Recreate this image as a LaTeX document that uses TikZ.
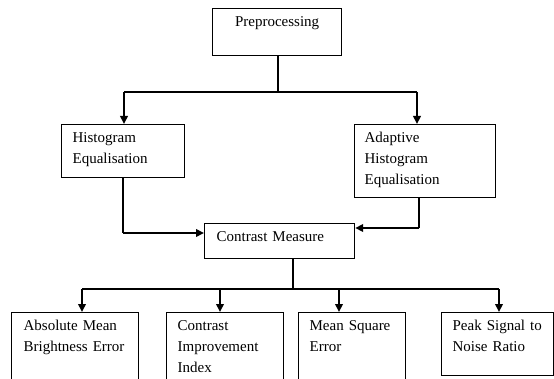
\documentclass[tikz,border=0pt]{standalone}
\usepackage{fontspec}
\setmainfont{Liberation Serif}
\usetikzlibrary{arrows.meta}

\begin{document}
\begin{tikzpicture}
    [
        x=1pt, y=-1pt,
        block/.style = {
                draw,
                rectangle,
                line width=1.2pt,
                anchor=north west,
                inner xsep=11pt,
                inner ysep=0pt,
                text height=18pt,
                align=left,
                font=\fontsize{15}{21}\selectfont
            },
        link/.style = {line width=1.3pt},
        arrow/.style = {line width=2.2pt, -{Triangle[length=8pt,width=7.5pt]}},
    ]

    \useasboundingbox (0,0) rectangle (554,379);
    \clip (0,0) rectangle (554,379);

    % boxes
    \node [block, align=center, text width=107pt, text depth=29pt] (pre) at (212,8) {Preprocessing};
    \node [block, text width=101pt, text depth=35pt] (histeq) at (61,124) {Histogram\\Equalisation};
    \node [block, inner xsep=10pt, text width=121pt, text depth=55pt] (ahe) at (354,124) {Adaptive\\Histogram\\Equalisation};
    \node [block, inner xsep=12pt, text width=126pt, text depth=17pt] (contrast) at (204,223) {Contrast Measure};
    \node [block, inner xsep=12pt, text width=103pt, text depth=72pt] (ambe) at (11,312) {Absolute Mean\\Brightness Error};
    \node [block, text width=95pt, text depth=72pt] (cii) at (166,312) {Contrast\\Improvement\\Index};
    \node [block, text width=85pt, text depth=72pt] (mse) at (298,312) {Mean Square\\Error};
    \node [block, text width=90pt, text depth=45pt] (psnr) at (441,312) {Peak Signal to\\Noise Ratio};

    % junctions
    \coordinate (fork) at (278,92);
    \coordinate (fl) at (124,92);
    \coordinate (fr) at (417,92);
    \coordinate (hl) at (123,233);
    \coordinate (ar) at (419,228);
    \coordinate (cm) at (293,289);

    % preprocessing to both equalisations
    \draw [link] (pre.south -| fork) -- (fork);
    \draw [link] (fl) -- (fr);
    \draw [arrow] (fl) -- (fl |- histeq.north);
    \draw [arrow] (fr) -- (fr |- ahe.north);

    % equalisations to contrast measure
    \draw [link] (histeq.south -| hl) -- (hl);
    \draw [arrow] (hl) -- (hl -| contrast.west);
    \draw [link] (ahe.south -| ar) -- (ar);
    \draw [arrow] (ar) -- (ar -| contrast.east);

    % contrast measure to the four measures
    \draw [link] (contrast.south -| cm) -- (cm);
    \foreach \n/\x in {ambe/82, cii/220, mse/339, psnr/499} {
        \coordinate (d\n) at (\x,289);
        \draw [arrow] (d\n) -- (d\n |- \n.north);
    }
    \draw [link] (dambe) -- (dpsnr);

\end{tikzpicture}
\end{document}
